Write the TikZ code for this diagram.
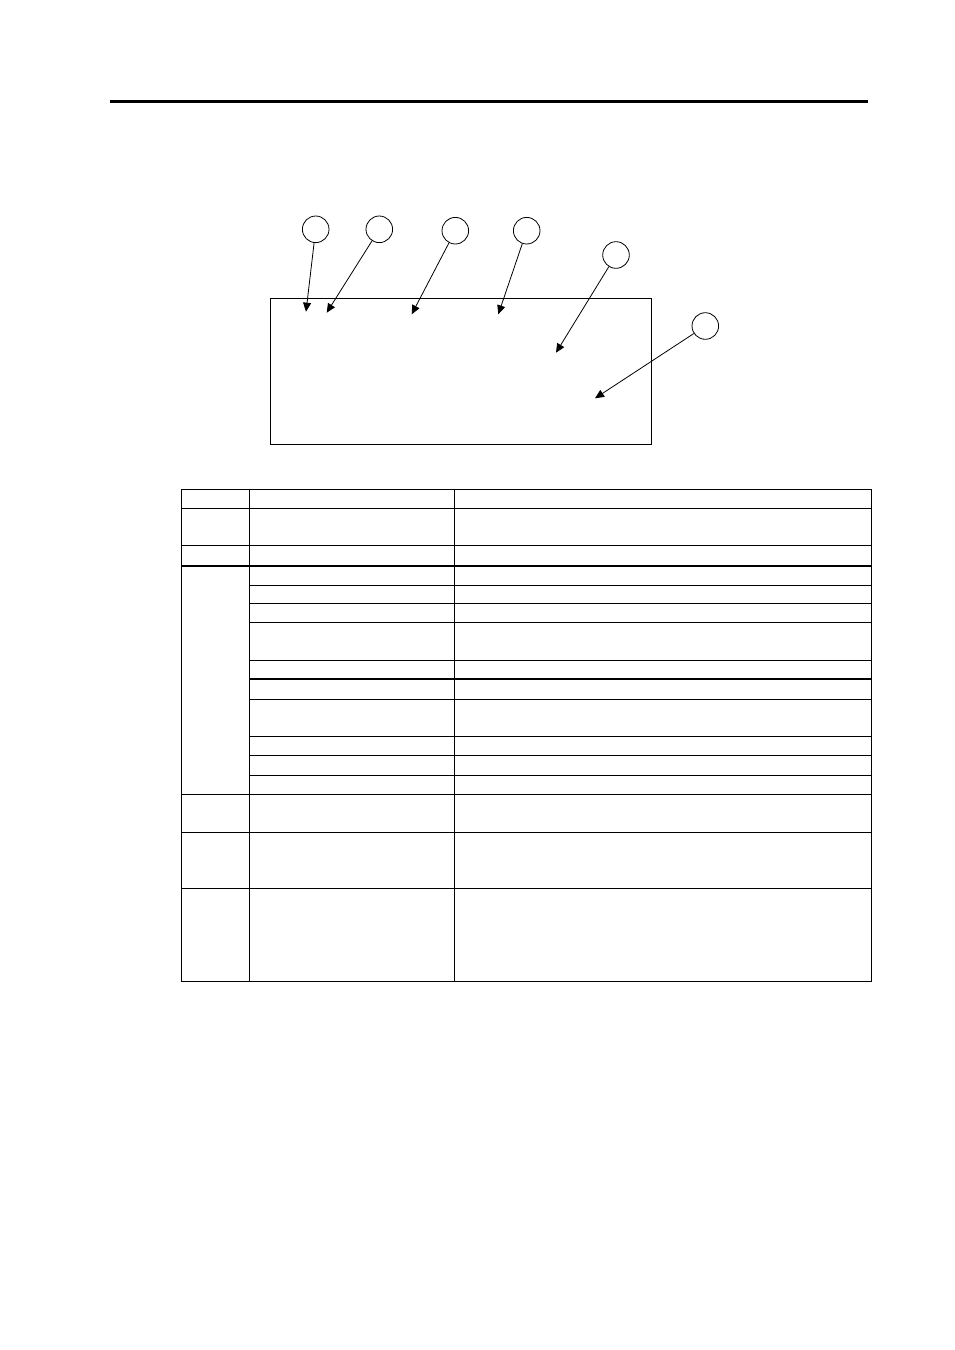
\documentclass[tikz,border=0pt]{standalone}
\usetikzlibrary{arrows.meta}
\begin{document}
\begin{tikzpicture}[x=1pt,y=-1pt,
  callout/.style={circle,draw,line width=0.8pt,minimum size=26.6pt,inner sep=0pt},
  arr/.style={line width=0.8pt,-{Triangle[length=9pt,width=8pt]}},
  grid/.style={line width=1.2pt},
  panel/.style={draw,line width=0.9pt}]
\useasboundingbox (0,0) rectangle (954,1350);
% top rule
\draw[line width=2.7pt] (110,101.3) -- (867.7,101.3);
% panel
\node[panel,minimum width=380.3pt,minimum height=146pt,inner sep=0pt] (box) at (460.85,371.3) {};
% callouts
\node[callout] (c1) at (315.7,229.3) {};
\node[callout] (c2) at (379.3,229.3) {};
\node[callout] (c3) at (455.3,230.7) {};
\node[callout] (c4) at (526.7,230.7) {};
\node[callout] (c5) at (616,255) {};
\node[callout] (c6) at (705.3,326) {};
\coordinate (t1) at (306,311.7);
\coordinate (t2) at (326.7,312.7);
\coordinate (t3) at (411.7,314.3);
\coordinate (t4) at (498.3,314.3);
\coordinate (t5) at (556,352.7);
\coordinate (t6) at (595,398.3);
\draw[arr] (c1) -- (t1);
\draw[arr] (c2) -- (t2);
\draw[arr] (c3) -- (t3);
\draw[arr] (c4) -- (t4);
\draw[arr] (c5) -- (t5);
\draw[arr] (c6) -- (t6);
% table
\def\xa{181.3}\def\xb{249.7}\def\xc{454.3}\def\xd{871.3}
\draw[grid] (\xa,489.3) rectangle (\xd,981.3);
\draw[grid] (\xb,489.3) -- (\xb,981.3);
\draw[grid] (\xc,489.3) -- (\xc,981.3);
\foreach \y in {508.7,545.3,566,794.3,832.3,888.3}
  \draw[grid] (\xa,\y) -- (\xd,\y);
\foreach \y in {585.3,603.3,622.3,660.3,679,699.3,736.7,755.3,775.3}
  \draw[grid] (\xb,\y) -- (\xd,\y);
\end{tikzpicture}
\end{document}
